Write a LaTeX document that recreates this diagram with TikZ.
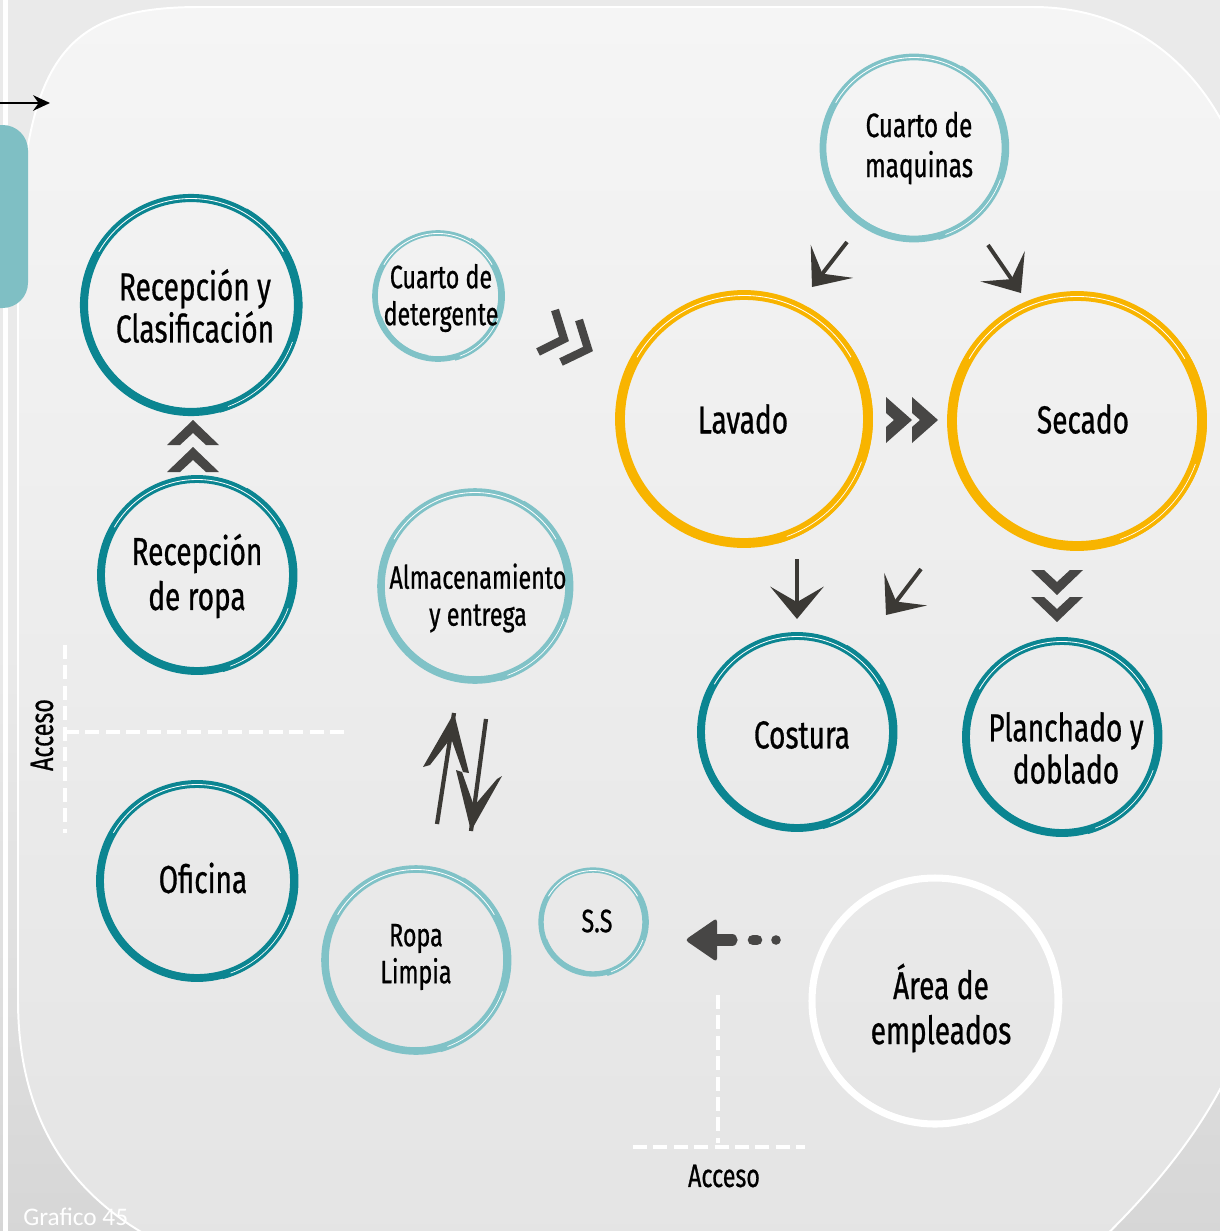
\documentclass[tikz,border=0pt]{standalone}
\usepackage{fontspec}
\setmainfont[FakeStretch=0.72, FakeBold=0.7]{Fira Sans}
\newfontfamily\capfont{Carlito}
\usetikzlibrary{arrows.meta,calc}
\definecolor{tealD}{HTML}{0B8591}
\definecolor{tealL}{HTML}{80C2C7}
\definecolor{yel}{HTML}{F8B400}
\definecolor{arrc}{HTML}{3B3935}
\definecolor{arrb}{HTML}{474645}
\definecolor{bgout}{HTML}{EAEAEA}
\definecolor{bgin}{HTML}{F5F5F5}
\definecolor{bgmid}{HTML}{F1F1F1}
\definecolor{bglow}{HTML}{E4E4E4}
\definecolor{tabc}{HTML}{7FBFC4}

\newcommand\ringnode[6]{%
  \node[circle, inner sep=0pt, minimum size={#4*0.05cm}] (#1) at (#2,#3) {};
  \draw[#5, line width=#6] (#1.center) circle[radius=#4];
  \draw[#5, line width={0.5*#6}] ($(#1.center)+(-60:{#4+2.5})$) arc[start angle=-60, end angle=75, radius={#4+2.5}];
  \draw[#5, line width={0.4*#6}] ($(#1.center)+(100:{#4-2})$) arc[start angle=100, end angle=160, radius={#4-2}];
  \draw[white, line width=0.6pt] ($(#1.center)+(-150:{#4-0.5})$) arc[start angle=-150, end angle=-30, radius={#4-0.5}];
  \draw[white, line width=0.5pt] ($(#1.center)+(20:{#4+1})$) arc[start angle=20, end angle=70, radius={#4+1}];
}
\newcommand\chevU[2]{\fill[arrb] (#1-26,#2+25) -- (#1,#2) -- (#1+26,#2+25) -- (#1+13,#2+25) -- (#1,#2+13) -- (#1-13,#2+25) -- cycle;}
\newcommand\chevD[2]{\fill[arrb] (#1-26,#2-25) -- (#1,#2) -- (#1+26,#2-25) -- (#1+13,#2-25) -- (#1,#2-13) -- (#1-13,#2-25) -- cycle;}
\newcommand\chevR[2]{\fill[arrb] (#1-26,#2-23) -- (#1,#2) -- (#1-26,#2+23) -- (#1-26,#2+7) -- (#1-18,#2) -- (#1-26,#2-7) -- cycle;}

\begin{document}
\begin{tikzpicture}[x=0.025cm,y=-0.025cm,
  txt/.style={align=center, inner sep=0pt, text=black},
  fbig/.style={font=\fontsize{27.7}{30}\selectfont},
  fmid/.style={font=\fontsize{24}{28.5}\selectfont},
  fsml/.style={font=\fontsize{23}{26.3}\selectfont},
  thinarr/.style={arrc, line width=2.8pt, -{Stealth[length=23pt,width=38pt,inset=11pt]}},
  dashline/.style={white, line width=2.3pt, dash pattern=on 10pt off 4.5pt},
]
\useasboundingbox (0,0) rectangle (1220,1231);
% background outside
\fill[bgout] (0,0) rectangle (1220,1231);
\shade[top color=bgout, bottom color=black!16] (0,650) rectangle (1220,1231);
\fill[white] (3,0) rectangle (8,1231);
% main rounded panel
\shade[top color=bgin, middle color=bgmid, bottom color=bglow]
  (200,7) -- (1033,7) .. controls (1150,7) and (1240,90) .. (1262,250)
  -- (1262,950) .. controls (1255,1050) and (1200,1150) .. (1080,1260)
  -- (200,1260) .. controls (80,1215) and (18,1130) .. (18,1000)
  -- (18,300) .. controls (18,60) and (60,7) .. (200,7) -- cycle;
\draw[white, line width=1.4pt]
  (200,7) -- (1033,7) .. controls (1150,7) and (1240,90) .. (1262,250)
  -- (1262,950) .. controls (1255,1050) and (1200,1150) .. (1080,1260)
  -- (200,1260) .. controls (80,1215) and (18,1130) .. (18,1000)
  -- (18,300) .. controls (18,60) and (60,7) .. (200,7) -- cycle;
% teal tab
\fill[tabc, rounded corners=18pt] (-40,125) rectangle (28,308);
% top-left arrow
\coordinate (tl0) at (0,103);
\coordinate (tl1) at (50,103);
\draw[black, line width=1.6pt, -{Stealth[length=12pt,width=11pt]}] (tl0) -- (tl1);

% rings
\ringnode{recl}{191}{305}{107}{tealD}{5.8pt}
\ringnode{deter}{438}{296}{63}{tealL}{4pt}
\ringnode{maq}{914}{148}{91}{tealL}{4.8pt}
\ringnode{lav}{744}{419}{124}{yel}{7pt}
\ringnode{sec}{1077}{421}{125}{yel}{7pt}
\ringnode{recr}{197}{575}{96}{tealD}{5.6pt}
\ringnode{alm}{475}{586}{94}{tealL}{5.4pt}
\ringnode{cost}{797}{732}{96}{tealD}{5.6pt}
\ringnode{plan}{1062}{737}{96}{tealD}{5.6pt}
\ringnode{ofi}{197}{881}{97}{tealD}{5.6pt}
\ringnode{ropa}{416}{960}{91}{tealL}{5.4pt}
\ringnode{ss}{593}{922}{52}{tealL}{3.8pt}
\ringnode{area}{935}{1001}{123}{white}{5pt}

% texts
\node[txt, fbig] (recl-t) at (195,306) {Recepción y\\Clasificación};
\node[txt, fsml] (deter-t) at (441,298) {Cuarto de\\detergente};
\node[txt, fmid] (maq-t) at (919,148) {Cuarto de\\maquinas};
\node[txt, fbig] (lav-t) at (743,419) {Lavado};
\node[txt, fbig] (sec-t) at (1083,419) {Secado};
\node[txt, fbig, font=\fontsize{27.7}{32}\selectfont] (recr-t) at (197,576) {Recepción\\de ropa};
\node[txt, fsml] (alm-t) at (478,598) {Almacenamiento\\y entrega};
\node[txt, fbig] (cost-t) at (802,735) {Costura};
\node[txt, fbig] (plan-t) at (1066,748) {Planchado y\\doblado};
\node[txt, fbig] (ofi-t) at (203,878) {Oficina};
\node[txt, fsml] (ropa-t) at (416,957) {Ropa\\Limpia};
\node[txt, fsml] (ss-t) at (597,921) {S.S};
\node[txt, fbig, font=\fontsize{27.7}{32}\selectfont] (area-t) at (941,1008) {Área de\\empleados};
\node[txt, fsml, rotate=90] (acc1) at (42,735) {Acceso};
\node[txt, fsml] (acc2) at (724,1176) {Acceso};
\node[anchor=base west, inner sep=0pt, text=white, font=\capfont\fontsize{18}{20}\selectfont] (graf) at (23,1225) {Grafico 45};

% dashed access lines
\coordinate (d1a) at (65,645); \coordinate (d1b) at (65,833);
\coordinate (d2a) at (65,732); \coordinate (d2b) at (345,732);
\coordinate (d3a) at (718,995); \coordinate (d3b) at (718,1143);
\coordinate (d4a) at (633,1147); \coordinate (d4b) at (805,1147);
\draw[dashline] (d1a) -- (d1b);
\draw[dashline] (d2a) -- (d2b);
\draw[dashline] (d3a) -- (d3b);
\draw[dashline] (d4a) -- (d4b);

% chevrons
\chevU{193}{420}
\chevU{193}{447}
\chevD{1057}{595}
\chevD{1057}{622}
\chevR{912}{420}
\chevR{938}{420}
\draw[arrb, line width=5.8pt, miter limit=10] (555,310) -- (564,339) -- (538,352);
\draw[arrb, line width=5.8pt, miter limit=10] (579,320) -- (588,349) -- (561,362);

% thin arrows
\coordinate (a1s) at (847,242); \coordinate (a1e) at (812,287);
\coordinate (a2s) at (988,245); \coordinate (a2e) at (1021,293);
\coordinate (a3s) at (797,559); \coordinate (a3e) at (797,619);
\coordinate (a4s) at (921,569); \coordinate (a4e) at (886,615);
\draw[thinarr] (a1s) -- (a1e);
\draw[thinarr] (a2s) -- (a2e);
\draw[thinarr] (a3s) -- (a3e);
\draw[thinarr] (a4s) -- (a4e);
% long up / down arrows with swept barbs
\coordinate (u1s) at (437,824); \coordinate (u1p) at (451,738); \coordinate (u1e) at (454,713);
\draw[arrc, line width=3pt] (u1s) -- (u1e);
\fill[arrc] (u1e) -- (423,767) -- (430,765) -- (u1p) -- cycle;
\fill[arrc] (u1e) -- (469,773) -- (463,772) -- (u1p) -- cycle;
\coordinate (u2s) at (486,719); \coordinate (u2p) at (474,806); \coordinate (u2e) at (471,831);
\draw[arrc, line width=3pt] (u2s) -- (u2e);
\fill[arrc] (u2e) -- (456,770) -- (462,772) -- (u2p) -- cycle;
\fill[arrc] (u2e) -- (502,776) -- (497,779) -- (u2p) -- cycle;

% thick left arrow with dots
\fill[arrb, rounded corners=2.5pt] (717,918) -- (685,940) -- (717,962) -- cycle;
\coordinate (b1) at (708,940); \coordinate (b2) at (732,940);
\draw[arrb, line width=8pt, line cap=round] (b1) -- (b2);
\coordinate (b3) at (753,940); \coordinate (b4) at (757,940);
\draw[arrb, line width=7.5pt, line cap=round] (b3) -- (b4);
\fill[arrb] (776,940) circle[radius=4.8];
\end{tikzpicture}
\end{document}
